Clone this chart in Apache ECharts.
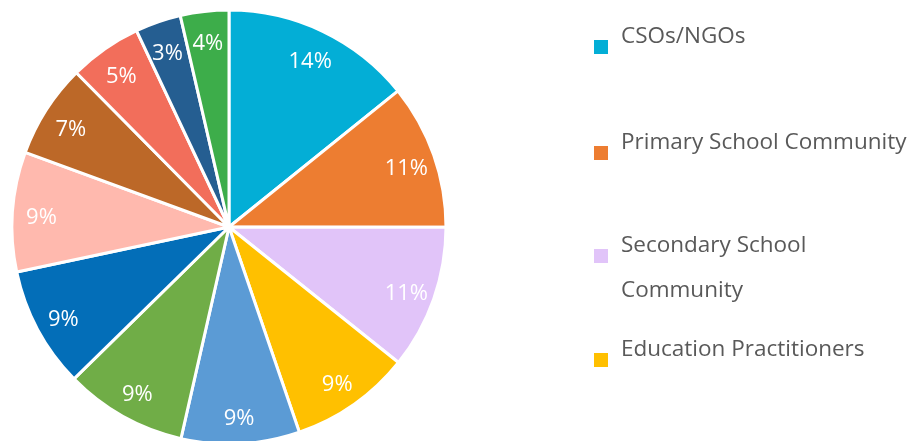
<!DOCTYPE html>
<html>
<head>
<meta charset="utf-8">
<script src="https://cdn.jsdelivr.net/npm/echarts@6/dist/echarts.min.js"></script>
<style>
html,body{margin:0;padding:0;background:#fff;}
#chart{width:910px;height:441px;}
</style>
</head>
<body>
<div id="chart"></div>
<script>
// Data (shares in %)
var categories = ['CSOs/NGOs', 'Primary School Community', 'Secondary School Community', 'Education Practitioners',
  'Group 5', 'Group 6', 'Group 7', 'Group 8', 'Group 9', 'Group 10', 'Group 11', 'Group 12'];
var values = [14.2, 10.8, 10.7, 9.0, 8.8, 9.1, 9.0, 8.9, 7.0, 5.4, 3.4, 3.6];
var colors = ['#03AED6', '#ED7D31', '#E1C4F9', '#FFC000', '#5B9BD5', '#70AD47',
  '#036EB8', '#FFB9AE', '#BC6828', '#F26E5B', '#255E91', '#3DAD4A'];
var legendNames = ['CSOs/NGOs', 'Primary School Community', 'Secondary School Community', 'Education Practitioners'];

var data = categories.map(function (c, i) {
  return { name: c, value: values[i], itemStyle: { color: colors[i] } };
});

var FONT = '"Open Sans", "Noto Sans", sans-serif';
var LEG_FS = 22.5, LEG_LH = 45, LEG_MAXW = 290;

// wrap a legend name into lines that fit LEG_MAXW
var ctx = document.createElement('canvas').getContext('2d');
ctx.font = LEG_FS + 'px ' + FONT;
function wrap(name) {
  var words = name.split(' '), lines = [], cur = '';
  words.forEach(function (w) {
    var t = cur ? cur + ' ' + w : w;
    if (cur && ctx.measureText(t).width > LEG_MAXW) { lines.push(cur); cur = w; }
    else cur = t;
  });
  if (cur) lines.push(cur);
  return lines;
}
function legendFormatter(name) {
  var lines = wrap(name);
  var n = lines.length;
  var diff = LEG_LH * n - 65;
  var parts = lines.map(function (l) { return '{a|' + l + '}'; });
  if (diff > 0) { parts.unshift('{p|' + ' ' + '}'); }
  if (diff < 0) { parts.push('{q|' + ' ' + '}'); }
  return parts.join('\n');
}
function legendRich(name) {
  var n = wrap(name).length;
  var diff = LEG_LH * n - 65;
  return {
    a: { fontFamily: FONT, fontSize: LEG_FS, color: '#595959', lineHeight: LEG_LH, padding: [0, 0, 0, 7] },
    p: { fontSize: 4, lineHeight: Math.max(diff, 1) },
    q: { fontSize: 4, lineHeight: Math.max(-diff, 1) }
  };
}

var legendTops = [25.5, 131.5, 209, 338.5];
var legends = legendNames.map(function (n, i) {
  return {
    orient: 'vertical',
    left: 592,
    top: legendTops[i],
    padding: 0,
    itemWidth: 16,
    itemHeight: 16,
    icon: 'rect',
    selectedMode: false,
    data: [n],
    formatter: legendFormatter,
    textStyle: {
      fontFamily: FONT,
      fontSize: LEG_FS,
      color: '#595959',
      rich: legendRich(n)
    }
  };
});

var chart = echarts.init(document.getElementById('chart'));
chart.setOption({
  backgroundColor: '#ffffff',
  animation: false,
  legend: legends,
  series: [
    {
      type: 'pie',
      center: [229, 227],
      radius: [0, 217],
      startAngle: 90,
      clockwise: true,
      data: data,
      label: { show: false },
      labelLine: { show: false },
      itemStyle: { borderColor: '#ffffff', borderWidth: 3 },
      emphasis: { disabled: true }
    },
    {
      // transparent ring that only carries the percentage labels
      type: 'pie',
      silent: true,
      center: [229, 231],
      radius: [153, 217],
      startAngle: 90,
      clockwise: true,
      data: categories.map(function (c, i) { return { name: c, value: values[i] }; }),
      itemStyle: { color: 'rgba(0,0,0,0)', borderWidth: 0 },
      label: {
        show: true,
        position: 'inside',
        color: '#ffffff',
        fontFamily: FONT,
        fontSize: 22,
        formatter: function (p) { return Math.round(p.percent) + '%'; }
      },
      labelLine: { show: false },
      emphasis: { disabled: true }
    }
  ]
});
</script>
</body>
</html>
